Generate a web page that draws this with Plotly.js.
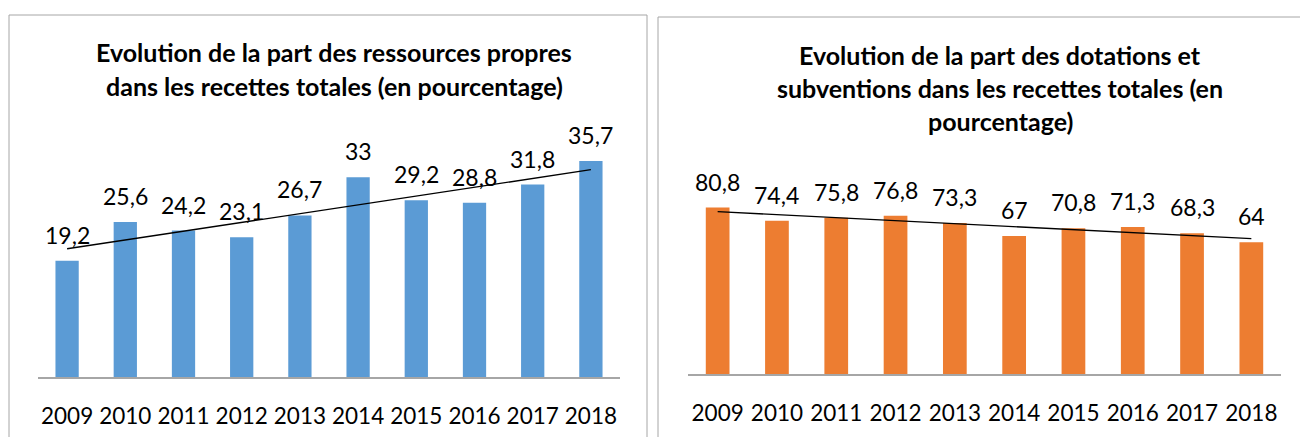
<!DOCTYPE html>
<html>
<head>
<meta charset="utf-8">
<script src="https://cdn.plot.ly/plotly-3.0.1.min.js"></script>
<style>html,body{margin:0;padding:0;background:#fff;}#chart{width:1300px;height:437px;}</style>
</head>
<body>
<div id="chart"></div>
<script>
const years = ["2009","2010","2011","2012","2013","2014","2015","2016","2017","2018"];
const ressourcesPropres = [19.2, 25.6, 24.2, 23.1, 26.7, 33, 29.2, 28.8, 31.8, 35.7];
const dotationsSubventions = [80.8, 74.4, 75.8, 76.8, 73.3, 67, 70.8, 71.3, 68.3, 64];
const titleLeft = ["Evolution de la part des ressources propres", "dans les recettes totales (en pourcentage)"];
const titleRight = ["Evolution de la part des dotations et", "subventions dans les recettes totales (en", "pourcentage)"];

function trend(vals) {
  const n = vals.length;
  const xm = (n - 1) / 2;
  const ym = vals.reduce((a, b) => a + b, 0) / n;
  let sxy = 0, sxx = 0;
  vals.forEach((v, i) => { sxy += (i - xm) * (v - ym); sxx += (i - xm) * (i - xm); });
  const slope = sxy / sxx;
  return vals.map((v, i) => ym + slope * (i - xm));
}
const fmt = v => String(v).replace('.', ',');

const FONT = "Lato, 'Open Sans', sans-serif";
const W = 1300, H = 437;

const traces = [
  {type: 'bar', x: years, y: ressourcesPropres, xaxis: 'x', yaxis: 'y',
   marker: {color: '#5B9BD5'}, hoverinfo: 'none'},
  {type: 'scatter', mode: 'lines', x: years, y: trend(ressourcesPropres), xaxis: 'x', yaxis: 'y',
   line: {color: '#000', width: 1.3}, hoverinfo: 'none'},
  {type: 'bar', x: years, y: dotationsSubventions, xaxis: 'x2', yaxis: 'y2',
   marker: {color: '#ED7D31'}, hoverinfo: 'none'},
  {type: 'scatter', mode: 'lines', x: years, y: trend(dotationsSubventions), xaxis: 'x2', yaxis: 'y2',
   line: {color: '#000', width: 1.3}, hoverinfo: 'none'}
];

const annotations = [];
ressourcesPropres.forEach((v, i) => annotations.push({
  x: i, y: v, xref: 'x', yref: 'y', text: fmt(v), showarrow: false,
  yanchor: 'middle', yshift: 26, font: {family: FONT, size: 23, color: '#000'}
}));
dotationsSubventions.forEach((v, i) => annotations.push({
  x: i, y: v, xref: 'x2', yref: 'y2', text: fmt(v), showarrow: false,
  yanchor: 'middle', yshift: 26, font: {family: FONT, size: 23, color: '#000'}
}));
const leftTitleY = [52, 86];
titleLeft.forEach((t, i) => annotations.push({
  x: 334 / W, y: (H - leftTitleY[i]) / H, xref: 'paper', yref: 'paper', text: '<b>' + t + '</b>',
  showarrow: false, xanchor: 'center', yanchor: 'middle', font: {family: FONT, size: 25, color: '#000'}
}));
const rightTitleY = [55, 88, 121];
titleRight.forEach((t, i) => annotations.push({
  x: 1000 / W, y: (H - rightTitleY[i]) / H, xref: 'paper', yref: 'paper', text: '<b>' + t + '</b>',
  showarrow: false, xanchor: 'center', yanchor: 'middle', font: {family: FONT, size: 25, color: '#000'}
}));

const xCommon = {type: 'category', range: [-0.5, years.length - 0.5], showgrid: false, zeroline: false, showline: true,
  linecolor: '#A6A6A6', linewidth: 1.5, ticks: '', ticklabelstandoff: 18,
  tickfont: {family: FONT, size: 22.5, color: '#000'}, fixedrange: true};
const yCommon = {showgrid: false, zeroline: false, showline: false, showticklabels: false,
  ticks: '', fixedrange: true};

const layout = {
  width: W, height: H,
  margin: {l: 0, r: 0, t: 0, b: 0},
  paper_bgcolor: '#fff', plot_bgcolor: 'rgba(0,0,0,0)',
  showlegend: false,
  bargap: 0.6,
  xaxis: Object.assign({}, xCommon, {domain: [38 / W, 620 / W], anchor: 'y'}),
  yaxis: Object.assign({}, yCommon, {domain: [(H - 377) / H, (H - 135) / H], range: [0, 40], anchor: 'x'}),
  xaxis2: Object.assign({}, xCommon, {domain: [688 / W, 1281 / W], anchor: 'y2'}),
  yaxis2: Object.assign({}, yCommon, {domain: [(H - 374) / H, (H - 168) / H], range: [0, 100], anchor: 'x2'}),
  annotations: annotations,
  shapes: [
    {type: 'rect', xref: 'paper', yref: 'paper', x0: 9 / W, x1: 647 / W, y0: -0.02, y1: (H - 15) / H,
     line: {color: '#A6A6A6', width: 1}, fillcolor: 'rgba(0,0,0,0)', layer: 'below'},
    {type: 'rect', xref: 'paper', yref: 'paper', x0: 658 / W, x1: 1.02, y0: -0.02, y1: (H - 17) / H,
     line: {color: '#A6A6A6', width: 1}, fillcolor: 'rgba(0,0,0,0)', layer: 'below'}
  ]
};

Plotly.newPlot('chart', traces, layout, {displayModeBar: false, staticPlot: true});
</script>
</body>
</html>
